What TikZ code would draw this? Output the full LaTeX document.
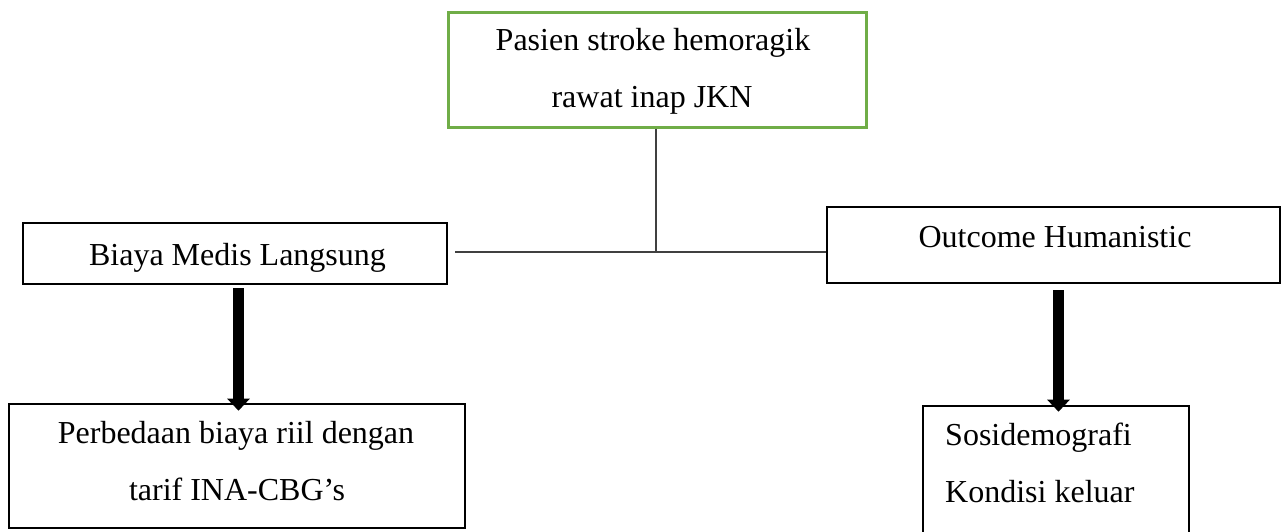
\documentclass[tikz,border=0pt]{standalone}
\usepackage{fontspec}
\setmainfont{Liberation Serif}
\usetikzlibrary{arrows.meta}
\definecolor{boxgreen}{RGB}{112,173,71}
\definecolor{conngray}{RGB}{64,64,64}
\tikzset{
  box/.style={draw=black, line width=2.6pt, inner sep=0pt, fill=none},
  greenbox/.style={draw=boxgreen, line width=3pt, inner sep=0pt},
  txt/.style={anchor=base, inner sep=0pt, font=\fontsize{32}{38}\selectfont},
  txtl/.style={anchor=base west, inner sep=0pt, font=\fontsize{32}{38}\selectfont},
  conn/.style={draw=conngray, line width=1.3pt},
  bigarrow/.style={draw=black, line width=11pt, -{Triangle[width=22pt,length=12pt]}}
}
\begin{document}
\begin{tikzpicture}[x=1pt,y=-1pt]
\useasboundingbox (0,0) rectangle (1282,531);
\begin{scope}
\clip (0,0) rectangle (1282,531);
% boxes
\node[greenbox, minimum width=418pt, minimum height=115pt] (top) at (657,69.5) {};
\node[box, minimum width=424pt, minimum height=61pt] (bml) at (235,253.5) {};
\node[box, minimum width=453pt, minimum height=76pt] (oh) at (1053.5,245) {};
\node[box, minimum width=456pt, minimum height=124pt] (pbr) at (237,466) {};
\node[box, minimum width=266pt, minimum height=150pt] (sos) at (1056,481) {};
% texts
\node[txt] (t1) at (653,50) {Pasien stroke hemoragik};
\node[txt] (t2) at (652,107) {rawat inap JKN};
\node[txt] (t3) at (237.5,265) {Biaya Medis Langsung};
\node[txt] (t4) at (1055,247) {Outcome Humanistic};
\node[txt] (t5) at (236,443) {Perbedaan biaya riil dengan};
\node[txt] (t6) at (237,500) {tarif INA-CBG’s};
\node[txtl] (t7) at (945,445) {Sosidemografi};
\node[txtl] (t8) at (945,502) {Kondisi keluar};
% connectors
\coordinate (junc) at (656,252);
\draw[conn] (top.south -| junc) -- (junc);
\draw[conn] ([xshift=7pt]bml.east |- junc) -- (oh.west |- junc);
\draw[bigarrow] ([xshift=3.5pt,yshift=-3pt]bml.south) -- ([xshift=3.5pt,yshift=-8pt]bml.south |- pbr.north);
\draw[bigarrow] ([xshift=5pt,yshift=-6pt]oh.south) -- ([xshift=5pt,yshift=-7pt]oh.south |- sos.north);
\end{scope}
\end{tikzpicture}
\end{document}
